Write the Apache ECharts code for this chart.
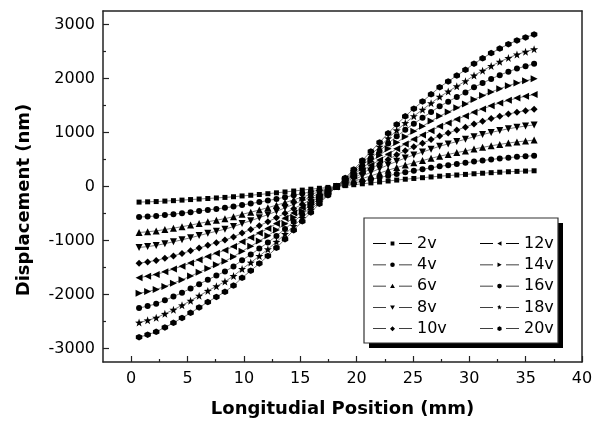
<!DOCTYPE html>
<html>
<head>
<meta charset="utf-8">
<script src="https://cdn.jsdelivr.net/npm/echarts@6/dist/echarts.min.js"></script>
<style>html,body{margin:0;padding:0;background:#fff;}#c{width:600px;height:425px;}</style>
</head>
<body>
<div id="c"></div>
<script>
const positions = [0.70,1.46,2.22,2.99,3.75,4.51,5.27,6.03,6.80,7.56,8.32,9.08,9.84,10.61,11.37,12.13,12.89,13.65,14.42,15.18,15.94,16.70,17.46,18.23,18.99,19.75,20.51,21.27,22.04,22.80,23.56,24.32,25.08,25.85,26.61,27.37,28.13,28.89,29.66,30.42,31.18,31.94,32.70,33.47,34.23,34.99,35.75];
const v2  = [-289,-284,-279,-270,-262,-252,-242,-232,-222,-212,-202,-190,-175,-162,-148,-133,-117,-101,-84,-67,-50,-33,-17,0,16,33,50,67,84,102,119,135,149,163,177,191,202,213,224,236,246,256,265,273,280,286,291];
const v4  = [-566,-557,-546,-529,-512,-494,-475,-454,-434,-415,-395,-372,-343,-316,-289,-261,-230,-198,-164,-131,-97,-65,-32,0,32,64,98,132,165,200,233,264,293,320,346,373,395,417,438,462,482,501,518,534,549,560,571];
const v6  = [-852,-838,-822,-797,-771,-744,-715,-684,-653,-624,-595,-560,-516,-476,-435,-392,-346,-298,-247,-197,-146,-97,-49,0,48,96,147,198,249,301,351,397,440,481,522,562,594,628,659,695,725,754,780,805,826,843,859];
const v8  = [-1130,-1112,-1091,-1058,-1024,-987,-949,-908,-867,-829,-790,-743,-686,-632,-578,-521,-460,-395,-328,-261,-194,-129,-65,0,64,128,195,263,330,400,466,527,585,638,692,746,789,833,875,922,962,1001,1036,1068,1096,1119,1141];
const v10 = [-1419,-1396,-1369,-1328,-1285,-1240,-1191,-1140,-1089,-1040,-992,-933,-861,-794,-725,-654,-577,-496,-412,-328,-244,-162,-81,0,80,160,245,331,415,502,586,661,734,802,869,936,990,1046,1099,1158,1208,1257,1300,1341,1377,1405,1432];
const v12 = [-1688,-1661,-1629,-1580,-1529,-1475,-1417,-1356,-1295,-1237,-1180,-1110,-1024,-944,-863,-778,-686,-590,-490,-390,-290,-193,-97,0,95,191,292,393,493,597,697,786,873,953,1034,1114,1178,1244,1307,1377,1437,1495,1547,1595,1637,1671,1703];
const v14 = [-1977,-1945,-1908,-1850,-1790,-1727,-1659,-1588,-1517,-1449,-1382,-1300,-1199,-1106,-1010,-911,-804,-691,-574,-457,-339,-226,-113,0,111,223,341,461,578,699,816,921,1022,1117,1211,1304,1380,1457,1530,1613,1683,1751,1811,1868,1918,1957,1995];
const v16 = [-2251,-2215,-2172,-2106,-2039,-1966,-1889,-1808,-1727,-1650,-1573,-1480,-1365,-1259,-1150,-1037,-915,-786,-653,-520,-386,-258,-129,0,127,254,389,524,658,796,929,1049,1164,1271,1379,1485,1571,1659,1742,1836,1916,1993,2062,2127,2183,2228,2271];
const v18 = [-2520,-2479,-2431,-2358,-2282,-2201,-2115,-2024,-1933,-1847,-1761,-1657,-1528,-1409,-1288,-1161,-1025,-880,-731,-582,-433,-288,-144,0,142,285,435,587,736,891,1040,1174,1303,1423,1543,1662,1758,1857,1951,2056,2145,2231,2309,2381,2444,2495,2543];
const v20 = [-2790,-2745,-2690,-2610,-2525,-2435,-2340,-2240,-2140,-2045,-1950,-1835,-1690,-1560,-1425,-1285,-1135,-975,-810,-645,-480,-320,-160,0,158,315,482,649,816,985,1150,1300,1442,1575,1707,1840,1945,2055,2160,2275,2375,2470,2555,2635,2705,2760,2815];
const seriesNames = ['2v','4v','6v','8v','10v','12v','14v','16v','18v','20v'];
const seriesValues = [v2,v4,v6,v8,v10,v12,v14,v16,v18,v20];
const xMajorTicks = [0,5,10,15,20,25,30,35,40];
const xMinorTicks = [2.5,7.5,12.5,17.5,22.5,27.5,32.5,37.5];
const yMajorTicks = [-3000,-2000,-1000,0,1000,2000,3000];
const yMinorTicks = [-2500,-1500,-500,500,1500,2500];

const FONT = 'DejaVu Sans';
const plotSymbols = [
  {s:'rect', z:5},
  {s:'circle', z:6},
  {s:'triangle', z:7},
  {s:'path://M0,0L10,0L5,9Z', z:7},
  {s:'diamond', z:7},
  {s:'path://M0,5L9,0L9,10Z', z:7},
  {s:'path://M0,0L9,5L0,10Z', z:7},
  {s:'circle', z:6},
  {s:'path://M5,0L6.18,3.38L9.76,3.45L6.9,5.62L7.94,9.05L5,7L2.06,9.05L3.1,5.62L0.24,3.45L3.82,3.38Z', z:8},
  {s:'path://M5,0L9.33,2.5L9.33,7.5L5,10L0.67,7.5L0.67,2.5Z', z:6.5}
];
const lineParts = 'M0,0L0.01,0L0,0.01Z M39,6L38.99,6L39,5.99Z M0,2.6H13V3.4H0Z M26,2.6H39V3.4H26Z ';
const legendMarks = [
  'M17.6,1.1H21.4V4.9H17.6Z',
  'M17.2,3A2.3,2.3 0 1 0 21.8,3A2.3,2.3 0 1 0 17.2,3Z',
  'M19.5,0.6L21.9,4.9L17.1,4.9Z',
  'M17.1,1.1L21.9,1.1L19.5,5.4Z',
  'M19.5,0.5L22,3L19.5,5.5L17,3Z',
  'M17.3,3L21.5,0.7L21.5,5.3Z',
  'M17.5,0.7L21.7,3L17.5,5.3Z',
  'M17.2,3A2.3,2.3 0 1 0 21.8,3A2.3,2.3 0 1 0 17.2,3Z',
  'M19.5,0.5L20.09,2.19L21.88,2.23L20.45,3.31L20.97,5.03L19.5,4L18.03,5.03L18.55,3.31L17.12,2.23L17.91,2.19Z',
  'M19.5,0.6L21.6,1.8L21.6,4.2L19.5,5.4L17.4,4.2L17.4,1.8Z'
];

const series = seriesNames.map((name, k) => ({
  name: name,
  type: 'line',
  data: positions.map((x, i) => [x, seriesValues[k][i]]),
  symbol: plotSymbols[k].s,
  symbolSize: plotSymbols[k].z,
  showSymbol: true,
  lineStyle: {color: '#555', width: 0.8},
  itemStyle: {color: '#000', borderWidth: 0},
  emphasis: {disabled: true},
  z: 2
}));

const legendItem = (k) => ({name: seriesNames[k], icon: 'path://' + lineParts + legendMarks[k]});
const legendBase = {
  orient: 'vertical',
  top: 230.5,
  itemWidth: 39,
  itemHeight: 6,
  itemGap: 5.3,
  selectedMode: false,
  textStyle: {fontFamily: FONT, fontSize: 16, color: '#000', lineHeight: 16},
  itemStyle: {color: '#000', borderWidth: 0},
  z: 10
};

const plainLabel = (v) => String(v);
const frameLine = {show: true, onZero: false, lineStyle: {color: '#222', width: 1.5}};

const option = {
  animation: false,
  grid: {left: 103, right: 18, top: 11, bottom: 63, show: false},
  xAxis: [{
    type: 'value', min: -2.5, max: 40, position: 'bottom',
    name: 'Longitudial Position (mm)', nameLocation: 'middle', nameGap: 38,
    nameTextStyle: {fontFamily: FONT, fontSize: 18, fontWeight: 'bold', color: '#000'},
    axisLine: frameLine,
    axisTick: {show: true, inside: true, length: 6, lineStyle: {color: '#222', width: 1.2}, customValues: xMajorTicks},
    axisLabel: {show: true, margin: 9, fontFamily: FONT, fontSize: 16, color: '#000', customValues: xMajorTicks, formatter: plainLabel},
    splitLine: {show: false}
  }, {
    type: 'value', min: -2.5, max: 40, position: 'bottom', offset: 0,
    axisLine: {show: false, onZero: false},
    axisTick: {show: true, inside: true, length: 3, lineStyle: {color: '#222', width: 1.2}, customValues: xMinorTicks},
    axisLabel: {show: false},
    splitLine: {show: false}
  }, {
    type: 'value', min: -2.5, max: 40, position: 'top', offset: 0,
    axisLine: frameLine,
    axisTick: {show: false},
    axisLabel: {show: false},
    splitLine: {show: false}
  }],
  yAxis: [{
    type: 'value', min: -3250, max: 3250, position: 'left',
    name: 'Displacement (nm)', nameLocation: 'middle', nameGap: 70,
    nameTextStyle: {fontFamily: FONT, fontSize: 18, fontWeight: 'bold', color: '#000', padding: [0, 27, 0, 0]},
    axisLine: frameLine,
    axisTick: {show: true, inside: true, length: 6, lineStyle: {color: '#222', width: 1.2}, customValues: yMajorTicks},
    axisLabel: {show: true, margin: 8, fontFamily: FONT, fontSize: 16, color: '#000', customValues: yMajorTicks, formatter: plainLabel},
    splitLine: {show: false}
  }, {
    type: 'value', min: -3250, max: 3250, position: 'left', offset: 0,
    axisLine: {show: false, onZero: false},
    axisTick: {show: true, inside: true, length: 3, lineStyle: {color: '#222', width: 1.2}, customValues: yMinorTicks},
    axisLabel: {show: false},
    splitLine: {show: false}
  }, {
    type: 'value', min: -3250, max: 3250, position: 'right', offset: 0,
    axisLine: frameLine,
    axisTick: {show: false},
    axisLabel: {show: false},
    splitLine: {show: false}
  }],
  graphic: [
    {type: 'rect', shape: {x: 369, y: 223, width: 194, height: 125}, style: {fill: '#000'}, z: 5},
    {type: 'rect', shape: {x: 364, y: 218, width: 194, height: 125}, style: {fill: '#fff', stroke: '#333', lineWidth: 1.2}, z: 6}
  ],
  legend: [
    Object.assign({}, legendBase, {left: 368, data: [0,1,2,3,4].map(legendItem)}),
    Object.assign({}, legendBase, {left: 475, data: [5,6,7,8,9].map(legendItem)})
  ],
  series: series
};

const chart = echarts.init(document.getElementById('c'), null, {renderer: 'canvas'});
chart.setOption(option);
</script>
</body>
</html>
